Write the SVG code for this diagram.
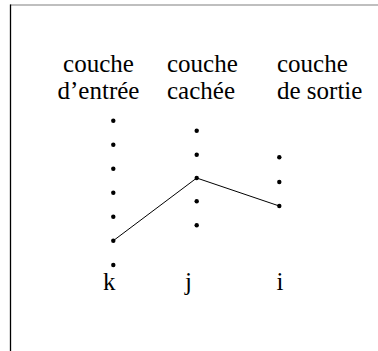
<svg xmlns="http://www.w3.org/2000/svg" width="378" height="351" viewBox="0 0 378 351">
<rect width="378" height="351" fill="#fff"/>
<line x1="10" y1="5" x2="378" y2="5" stroke="#808080" stroke-width="1.2"/>
<line x1="10.5" y1="4.5" x2="10.5" y2="351" stroke="#000" stroke-width="1.3"/>
<text x="98.5" y="72" font-family="Liberation Serif, serif" font-size="25" text-anchor="middle">couche</text>
<text x="98.5" y="99" font-family="Liberation Serif, serif" font-size="25" text-anchor="middle">d’entrée</text>
<text x="167" y="72" font-family="Liberation Serif, serif" font-size="25">couche</text>
<text x="167" y="99" font-family="Liberation Serif, serif" font-size="25">cachée</text>
<text x="277" y="72" font-family="Liberation Serif, serif" font-size="25">couche</text>
<text x="277" y="99" font-family="Liberation Serif, serif" font-size="25">de sortie</text>
<g id="connectors">
<polyline points="113.3,240.7 196.7,178 279.3,206" fill="none" stroke="#000" stroke-width="1"/>
</g>
<g id="layer-k" fill="#000">
<circle cx="113.3" cy="120.7" r="2.2"/>
<circle cx="113.3" cy="144.7" r="2.2"/>
<circle cx="113.3" cy="168.7" r="2.2"/>
<circle cx="113.3" cy="192.7" r="2.2"/>
<circle cx="113.3" cy="216.7" r="2.2"/>
<circle cx="113.3" cy="240.7" r="2.2"/>
<circle cx="113.3" cy="265" r="2.2"/>
</g>
<g id="layer-j" fill="#000">
<circle cx="196.7" cy="130.7" r="2.2"/>
<circle cx="196.7" cy="154.7" r="2.2"/>
<circle cx="196.7" cy="178" r="2.2"/>
<circle cx="196.7" cy="201.3" r="2.2"/>
<circle cx="196.7" cy="225.3" r="2.2"/>
</g>
<g id="layer-i" fill="#000">
<circle cx="279.3" cy="157.3" r="2.2"/>
<circle cx="279.3" cy="182" r="2.2"/>
<circle cx="279.3" cy="206" r="2.2"/>
</g>
<text x="103" y="290" font-family="Liberation Serif, serif" font-size="25">k</text>
<text x="185" y="290" font-family="Liberation Serif, serif" font-size="25">j</text>
<text x="276.5" y="290" font-family="Liberation Serif, serif" font-size="25">i</text>
</svg>
